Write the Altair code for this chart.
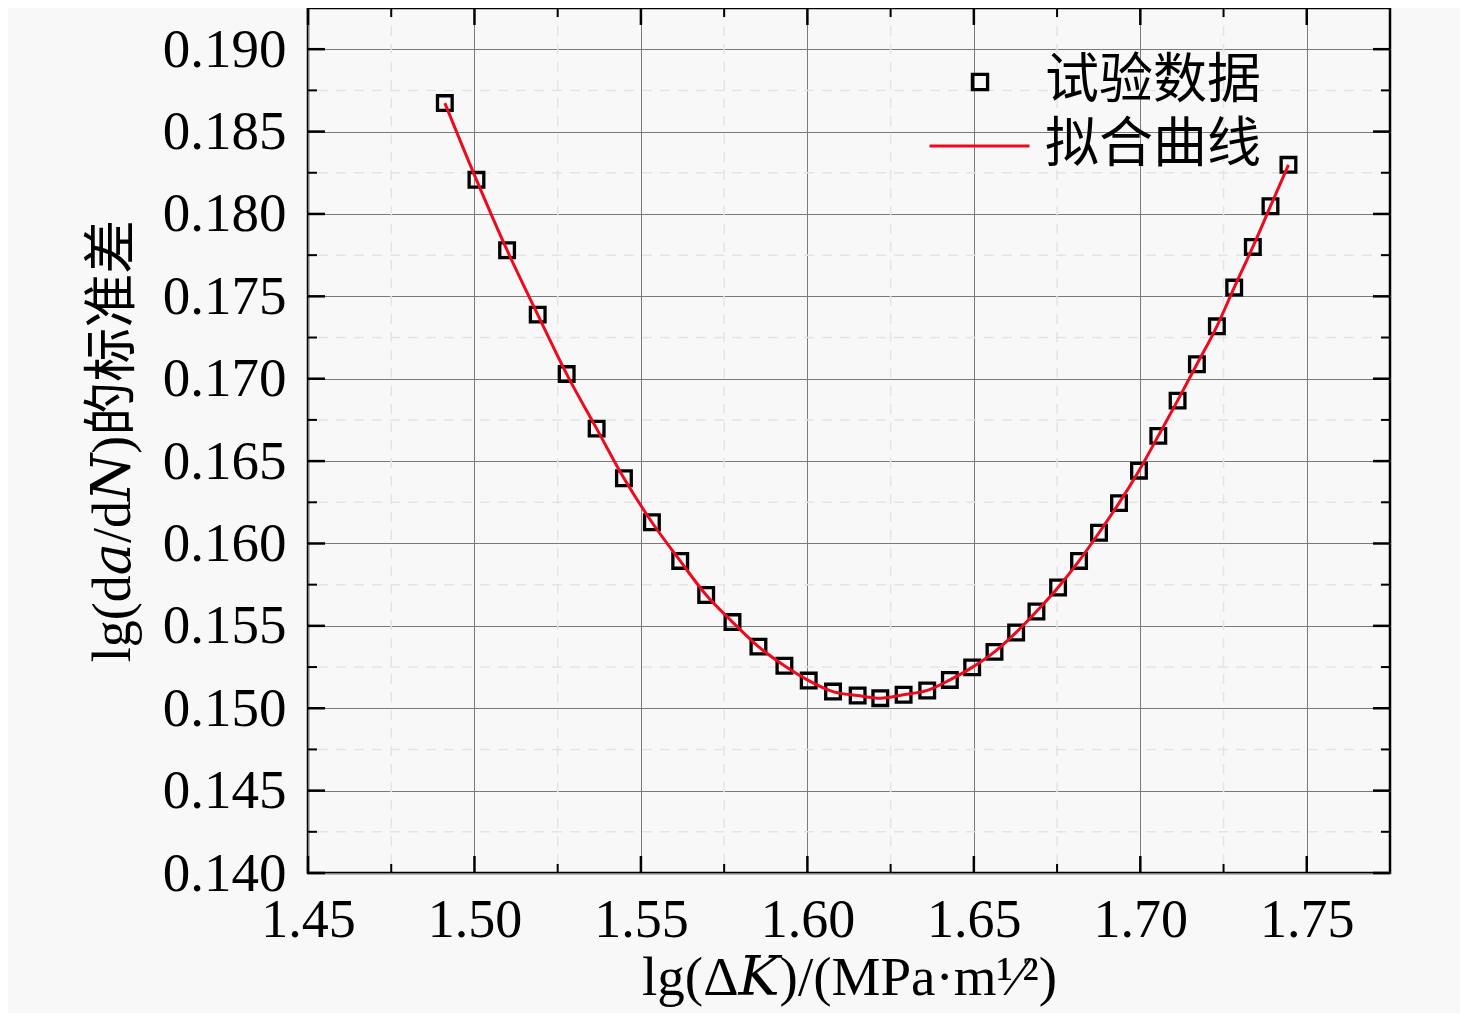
import altair as alt
import pandas as pd

# ---- data ----
lgK = [1.4911, 1.5006, 1.5098, 1.5190, 1.5277, 1.5367, 1.5449, 1.5533, 1.5618,
       1.5696, 1.5775, 1.5853, 1.5931, 1.6004, 1.6077, 1.6151, 1.6219, 1.6289,
       1.6360, 1.6428, 1.6495, 1.6562, 1.6627, 1.6688, 1.6753, 1.6816, 1.6876,
       1.6936, 1.6996, 1.7054, 1.7112, 1.7170, 1.7230, 1.7282, 1.7338, 1.7391,
       1.7445]
std_dadn = [0.18673, 0.18207, 0.17780, 0.17389, 0.17028, 0.16697, 0.16396, 0.16129,
            0.15894, 0.15687, 0.15523, 0.15374, 0.15258, 0.15168, 0.15101, 0.15077,
            0.15061, 0.15082, 0.15108, 0.15172, 0.15248, 0.15342, 0.15460, 0.15587,
            0.15733, 0.15894, 0.16065, 0.16245, 0.16442, 0.16653, 0.16867, 0.17088,
            0.17318, 0.17553, 0.17800, 0.18047, 0.18298]

x_major = [1.45, 1.50, 1.55, 1.60, 1.65, 1.70, 1.75]
x_minor = [1.475, 1.525, 1.575, 1.625, 1.675, 1.725]
y_major = [0.140, 0.145, 0.150, 0.155, 0.160, 0.165, 0.170, 0.175, 0.180, 0.185, 0.190]
y_minor = [0.1425, 0.1475, 0.1525, 0.1575, 0.1625, 0.1675, 0.1725, 0.1775, 0.1825, 0.1875]

legend_points = "试验数据"
legend_line = "拟合曲线"
x_title = "lg(Δ𝐾)/(MPa·m¹⁄²)"
y_title = "lg(d𝑎/d𝑁)的标准差"

W, H = 1082, 865
SERIF = "Liberation Serif, DejaVu Serif, Noto Sans CJK SC"
RED = "#ee0a1e"

df = pd.DataFrame({"x": lgK, "y": std_dadn})
df["s"] = legend_points
df["s2"] = legend_line

xscale = alt.Scale(domain=[1.45, 1.775], nice=False, zero=False)
yscale = alt.Scale(domain=[0.140, 0.1925], nice=False, zero=False)

xaxis = alt.Axis(values=x_major, format=".2f", title=x_title, grid=True,
                 gridColor="#7a7a7a", gridWidth=1, ticks=False, tickSize=0,
                 domain=False, labelFont=SERIF, labelFontSize=54, labelColor="black",
                 labelPadding=20, labelFlush=False, titleFont=SERIF, titleFontSize=55,
                 titleFontWeight="normal", titleColor="black", titlePadding=4)
yaxis = alt.Axis(values=y_major, format=".3f", title=y_title, grid=True,
                 gridColor="#7a7a7a", gridWidth=1, ticks=False, tickSize=0,
                 domain=False, labelFont=SERIF, labelFontSize=55, labelColor="black",
                 labelPadding=22, labelFlush=False, titleFont=SERIF, titleFontSize=54,
                 titleFontWeight="normal", titleColor="black", titlePadding=22)

dxmin = pd.DataFrame({"x": x_minor})
dymin = pd.DataFrame({"y": y_minor})
dxmaj = pd.DataFrame({"x": x_major})
dymaj = pd.DataFrame({"y": y_major})

X = alt.X("x:Q", scale=xscale, axis=xaxis)
Y = alt.Y("y:Q", scale=yscale, axis=yaxis)

grid_x_minor = alt.Chart(dxmin).mark_rule(color="#e4e4e4", strokeWidth=1.5, strokeDash=[10, 8]).encode(x=X)
grid_y_minor = alt.Chart(dymin).mark_rule(color="#e4e4e4", strokeWidth=1.5, strokeDash=[10, 8]).encode(y=Y)

points = alt.Chart(df).mark_point(shape="square", filled=False, size=215,
                                  strokeWidth=3.3, color="black", opacity=1).encode(
    x=X, y=Y,
    shape=alt.Shape("s:N", scale=alt.Scale(domain=[legend_points], range=["square"]),
                    legend=alt.Legend(title=None, orient="none", legendX=645, legendY=47,
                                      symbolSize=230, symbolStrokeWidth=3.3,
                                      symbolStrokeColor="black", labelOffset=38,
                                      labelFont=SERIF, labelFontSize=54, labelColor="black",
                                      labelLimit=1000, padding=0)),
)

line = alt.Chart(df).mark_line(strokeWidth=3, interpolate="monotone").encode(
    x=X, y=Y,
    color=alt.Color("s2:N", scale=alt.Scale(domain=[legend_line], range=[RED]),
                    legend=alt.Legend(title=None, orient="none", legendX=620, legendY=86.5,
                                      symbolType="stroke", symbolSize=10000,
                                      symbolStrokeWidth=3, labelOffset=14,
                                      labelFont=SERIF, labelFontSize=54, labelColor="black",
                                      labelLimit=1000, padding=0)),
)

def xticks(d, y0, y1, sw):
    return alt.Chart(d).mark_rule(color="black", strokeWidth=sw).encode(
        x=X, y=alt.value(y0), y2=alt.value(y1))

def yticks(d, x0, x1, sw):
    return alt.Chart(d).mark_rule(color="black", strokeWidth=sw).encode(
        y=Y, x=alt.value(x0), x2=alt.value(x1))

ticks = [
    xticks(dxmaj, H, H - 17, 2.5), xticks(dxmin, H, H - 9, 2),
    xticks(dxmaj, 0, 17, 2.5), xticks(dxmin, 0, 9, 2),
    yticks(dymaj, 0, 17, 2.5), yticks(dymin, 0, 9, 2),
    yticks(dymaj, W, W - 17, 2.5), yticks(dymin, W, W - 9, 2),
]

chart = alt.layer(grid_x_minor, grid_y_minor, points, line, *ticks).resolve_legend(
    color="independent", shape="independent"
).properties(
    width=W, height=H,
    autosize=alt.AutoSizeParams(type="none"),
    padding={"left": 300, "top": 0, "right": 70, "bottom": 140},
    background="#f8f8f8",
).configure_view(stroke="black", strokeWidth=2.5)

chart.save("out.html", embed_options={"renderer": "svg", "actions": False})
